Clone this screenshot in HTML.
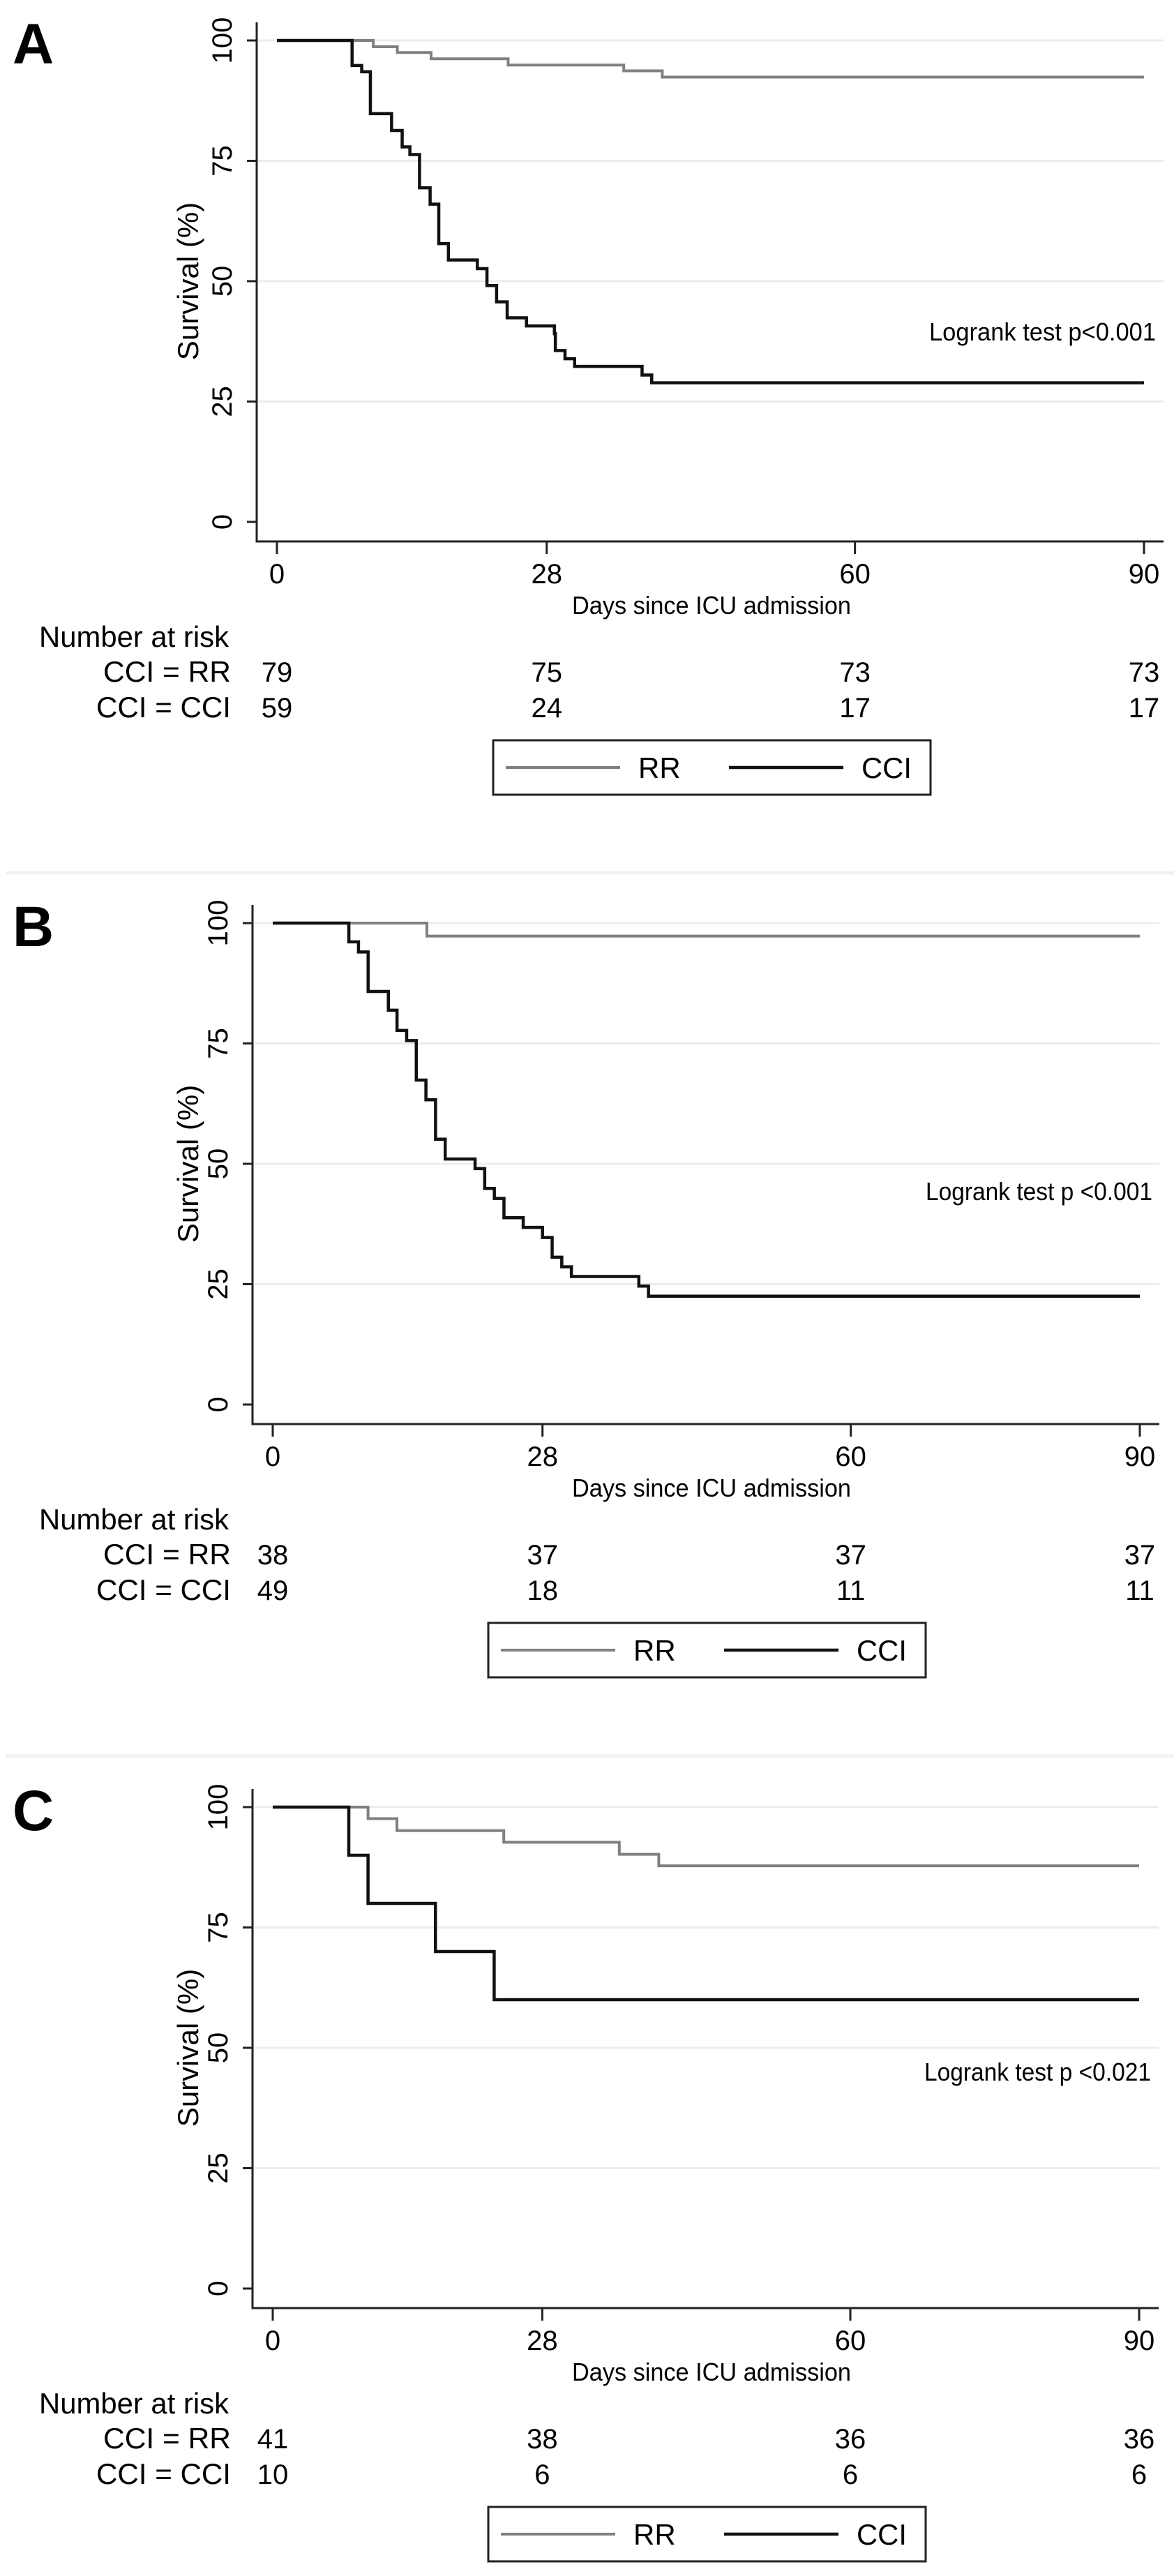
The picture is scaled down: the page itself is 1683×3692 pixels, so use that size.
<!DOCTYPE html>
<html><head><meta charset="utf-8">
<style>
html,body{margin:0;padding:0;background:#fff;}
svg{display:block;font-family:"Liberation Sans",Arial,sans-serif;}
</style></head>
<body>
<svg id="fig" xmlns="http://www.w3.org/2000/svg" width="1683" height="3692" viewBox="0 0 1683 3692">
<rect x="0" y="0" width="1683" height="3692" fill="#ffffff"/>
<line x1="8" y1="1251" x2="1683" y2="1251" stroke="#eef1f3" stroke-width="5"/>
<line x1="8" y1="2517" x2="1683" y2="2517" stroke="#eef1f3" stroke-width="5"/>
</svg>
<script>
// Panel A data
const aRRTimes = [0, 10, 12.5, 16, 24, 36, 40, 90];
const aRRSurv  = [100, 98.7, 97.5, 96.2, 94.9, 93.7, 92.4, 92.4];
const aCCITimes = [0, 7.8, 8.8, 9.7, 11.9, 13, 13.8, 14.8, 15.9, 16.8, 17.8, 20.8, 21.8, 22.8, 23.9, 25.9, 28.8, 28.9, 29.9, 30.9, 37.9, 38.9, 90];
const aCCISurv  = [100, 94.8, 93.5, 84.8, 81.3, 77.9, 76.3, 69.4, 66, 57.8, 54.4, 52.6, 49.1, 45.7, 42.4, 40.7, 39.1, 35.6, 33.9, 32.3, 30.5, 28.9, 28.9];
const aRiskRR  = [79, 75, 73, 73];
const aRiskCCI = [59, 24, 17, 17];
// Panel B data
const bRRTimes = [0, 16, 90];
const bRRSurv  = [100, 97.3, 97.3];
const bCCITimes = [0, 7.9, 8.9, 9.9, 12, 12.9, 13.9, 14.9, 15.9, 16.9, 17.9, 21, 22, 23, 24, 26, 28, 29, 30, 31, 38, 39, 90];
const bCCISurv  = [100, 96.1, 94, 85.8, 81.9, 77.7, 75.6, 67.4, 63.3, 55.1, 51, 49, 44.9, 42.8, 38.8, 36.8, 34.7, 30.6, 28.6, 26.6, 24.6, 22.5, 22.5];
const bRiskRR  = [38, 37, 37, 37];
const bRiskCCI = [49, 18, 11, 11];
// Panel C data
const cRRTimes = [0, 9.9, 12.9, 24, 36, 40.1, 90];
const cRRSurv  = [100, 97.6, 95.1, 92.7, 90.2, 87.8, 87.8];
const cCCITimes = [0, 7.9, 9.9, 16.9, 23, 90];
const cCCISurv  = [100, 90, 80, 70, 60, 60];
const cRiskRR  = [41, 38, 36, 36];
const cRiskCCI = [10, 6, 6, 6];
// Axis ticks
const xTicks = [0, 28, 60, 90];
const yTicks = [0, 25, 50, 75, 100];
const pTexts = ["Logrank test p<0.001", "Logrank test p <0.001", "Logrank test p <0.021"];
const panelLetters = ["A", "B", "C"];

const NS = "http://www.w3.org/2000/svg";
const svg = document.getElementById("fig");
function mk(tag, attrs, parent) {
  const e = document.createElementNS(NS, tag);
  for (const k in attrs) e.setAttribute(k, attrs[k]);
  (parent || svg).appendChild(e);
  return e;
}

const panels = [
  {oy: 0, x0: 397, x90: 1640, lrY: 488, lrX: 1657, rrT: aRRTimes, rrS: aRRSurv, cT: aCCITimes, cS: aCCISurv, rr: aRiskRR, cc: aRiskCCI},
  {oy: 1265, x0: 391, x90: 1634, lrY: 455, lrX: 1652, rrT: bRRTimes, rrS: bRRSurv, cT: bCCITimes, cS: bCCISurv, rr: bRiskRR, cc: bRiskCCI},
  {oy: 2532, x0: 391, x90: 1633, lrY: 450, lrX: 1650, rrT: cRRTimes, rrS: cRRSurv, cT: cCCITimes, cS: cCCISurv, rr: cRiskRR, cc: cRiskCCI}
];

panels.forEach((p, i) => {
  const g = mk("g", {});
  
  
  const oy = p.oy;
  const y100 = oy + 58, y0 = oy + 748;
  const xs = d => p.x0 + (p.x90 - p.x0) * d / 90;
  const ys = v => y0 + (y100 - y0) * v / 100;
  const axL = p.x0 - 29, axB = oy + 776, axR = p.x90 + 28, axT = oy + 32;

  const L = mk("text", {x: 18, y: oy + 91, "font-size": 82, "font-weight": "bold", fill: "#000"}, g);
  L.textContent = panelLetters[i];
  
  

  yTicks.forEach(t => {
    if (t === 0) return;
    const gl = mk("line", {x1: axL, x2: axR, y1: ys(t), y2: ys(t), stroke: "#e7eef2", "stroke-width": 3}, g);
    
    
  });

  const ya = mk("line", {x1: axL, x2: axL, y1: axT, y2: axB + 1.5, stroke: "#222", "stroke-width": 3}, g);
  
  
  const xa = mk("line", {x1: axL - 1.5, x2: axR, y1: axB, y2: axB, stroke: "#222", "stroke-width": 3}, g);
  
  

  yTicks.forEach(t => {
    const tk = mk("line", {x1: axL - 14, x2: axL, y1: ys(t), y2: ys(t), stroke: "#222", "stroke-width": 3}, g);
    
    
    const tx = axL - 36, ty = ys(t);
    const lb = mk("text", {x: tx, y: ty, "font-size": 40, "text-anchor": "middle", transform: `rotate(-90 ${tx} ${ty})`, fill: "#000"}, g);
    lb.textContent = String(t);
    
    
  });
  const ytx = 284, yty = oy + 403;
  const yt = mk("text", {x: ytx, y: yty, "font-size": 42, "text-anchor": "middle", transform: `rotate(-90 ${ytx} ${yty})`, fill: "#000"}, g);
  yt.textContent = "Survival (%)";
  
  

  xTicks.forEach(t => {
    const tk = mk("line", {x1: xs(t), x2: xs(t), y1: axB, y2: axB + 18, stroke: "#222", "stroke-width": 3}, g);
    
    
    const lb = mk("text", {x: xs(t), y: oy + 836, "font-size": 40, "text-anchor": "middle", fill: "#000"}, g);
    lb.textContent = String(t);
    
    
  });
  const xt = mk("text", {x: 820, y: oy + 880, "font-size": 36, textLength: 400, lengthAdjust: "spacingAndGlyphs", fill: "#000"}, g);
  xt.textContent = "Days since ICU admission";
  
  

  function stepPath(T, S) {
    let d = `M${xs(T[0])},${ys(S[0])}`;
    for (let k = 1; k < T.length; k++) {
      d += ` H${xs(T[k])} V${ys(S[k])}`;
    }
    return d;
  }
  const rr = mk("path", {d: stepPath(p.rrT, p.rrS), fill: "none", stroke: "#808080", "stroke-width": 4}, g);
  
  
  const cc = mk("path", {d: stepPath(p.cT, p.cS), fill: "none", stroke: "#111", "stroke-width": 4.5}, g);
  
  

  const lr = mk("text", {x: p.lrX, y: oy + p.lrY, "font-size": 36, "text-anchor": "end", textLength: 325, lengthAdjust: "spacingAndGlyphs", fill: "#000"}, g);
  lr.textContent = pTexts[i];
  
  

  const nar = mk("text", {x: 56, y: oy + 927, "font-size": 42, textLength: 272, lengthAdjust: "spacingAndGlyphs", fill: "#000"}, g);
  nar.textContent = "Number at risk";
  
  
  const r1 = mk("text", {x: 331, y: oy + 977, "font-size": 42, "text-anchor": "end", textLength: 183, lengthAdjust: "spacingAndGlyphs", fill: "#000"}, g);
  r1.textContent = "CCI = RR";
  
  
  const r2 = mk("text", {x: 331, y: oy + 1028, "font-size": 42, "text-anchor": "end", textLength: 193, lengthAdjust: "spacingAndGlyphs", fill: "#000"}, g);
  r2.textContent = "CCI = CCI";
  
  
  xTicks.forEach((t, k) => {
    const a = mk("text", {x: xs(t), y: oy + 977, "font-size": 40, "text-anchor": "middle", fill: "#000"}, g);
    a.textContent = String(p.rr[k]);
    
    
    const b = mk("text", {x: xs(t), y: oy + 1028, "font-size": 40, "text-anchor": "middle", fill: "#000"}, g);
    b.textContent = String(p.cc[k]);
    
    
  });

  const lx = (i === 0 ? 707 : 700);
  const lg = mk("g", {}, g);
  
  
  mk("rect", {x: lx, y: oy + 1061, width: 627, height: 78, fill: "#fff", stroke: "#222", "stroke-width": 3}, lg);
  const l1 = mk("line", {x1: lx + 18, x2: lx + 182, y1: oy + 1100, y2: oy + 1100, stroke: "#808080", "stroke-width": 4}, lg);
  
  
  const t1 = mk("text", {x: lx + 208, y: oy + 1115, "font-size": 42, fill: "#000"}, lg);
  t1.textContent = "RR";
  
  
  const l2 = mk("line", {x1: lx + 338, x2: lx + 502, y1: oy + 1100, y2: oy + 1100, stroke: "#111", "stroke-width": 4.5}, lg);
  
  
  const t2 = mk("text", {x: lx + 528, y: oy + 1115, "font-size": 42, textLength: 72, lengthAdjust: "spacingAndGlyphs", fill: "#000"}, lg);
  t2.textContent = "CCI";
  
  
});
</script>
</body></html>
